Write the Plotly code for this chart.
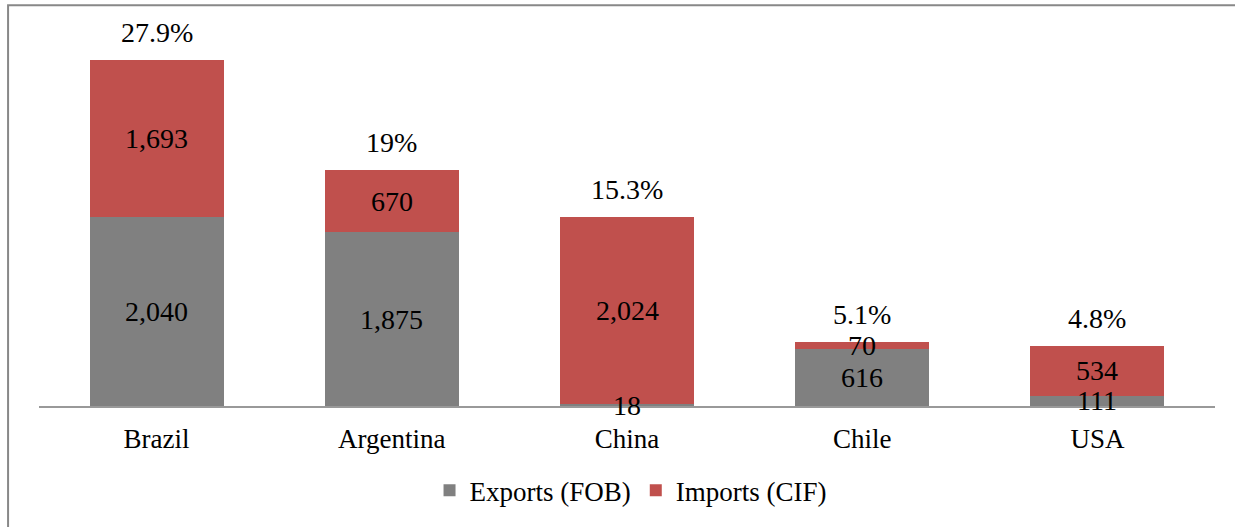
import plotly.graph_objects as go

countries = ["Brazil", "Argentina", "China", "Chile", "USA"]
exports_fob = [2040, 1875, 18, 616, 111]
imports_cif = [1693, 670, 2024, 70, 534]
shares = ["27.9%", "19%", "15.3%", "5.1%", "4.8%"]

FONT = "'Liberation Serif', 'Times New Roman', Times, 'DejaVu Serif', serif"
GRAY = "#808080"
RED = "#C0504D"

fig = go.Figure()
fig.add_trace(go.Bar(x=countries, y=exports_fob, name="Exports (FOB)",
                     marker=dict(color=GRAY, line=dict(width=0)), hoverinfo="skip"))
fig.add_trace(go.Bar(x=countries, y=imports_cif, name="Imports (CIF)",
                     marker=dict(color=RED, line=dict(width=0)), hoverinfo="skip"))

LBL = dict(family=FONT, size=28, color="black")
annotations = []
for c, e, i, s in zip(countries, exports_fob, imports_cif, shares):
    annotations.append(dict(x=c, y=e / 2, text=f"{e:,}", showarrow=False,
                            xref="x", yref="y", yanchor="middle", font=LBL))
    annotations.append(dict(x=c, y=e + i / 2, text=f"{i:,}", showarrow=False,
                            xref="x", yref="y", yanchor="middle", font=LBL))
    annotations.append(dict(x=c, y=e + i, text=s, showarrow=False,
                            xref="x", yref="y", yanchor="bottom", yshift=10, font=LBL))

fig.update_layout(
    barmode="stack",
    bargap=0.43,
    width=1235, height=527,
    margin=dict(l=39, r=20, t=35, b=119),
    paper_bgcolor="white", plot_bgcolor="white",
    font=dict(family=FONT, size=27, color="black"),
    showlegend=True,
    legend=dict(orientation="h", x=0.503, xanchor="center", y=-0.228, yanchor="middle",
                font=dict(family=FONT, size=27, color="black"),
                traceorder="normal", itemwidth=30),
    annotations=annotations,
    shapes=[dict(type="rect", xref="paper", yref="paper",
                 x0=-0.0263, x1=1.03, y0=-0.35, y1=1.0804,
                 line=dict(color="#888888", width=2), fillcolor="rgba(0,0,0,0)", layer="below")],
)
fig.update_xaxes(showline=True, linecolor="#999999", linewidth=2, ticks="",
                 showgrid=False, tickfont=dict(family=FONT, size=27, color="black"),
                 ticklabelstandoff=8, range=[-0.5, 4.5])
fig.update_yaxes(visible=False, range=[0, 4000], showgrid=False, zeroline=False)

fig.write_html("out.html", config={"displayModeBar": False},
               post_script="document.body.style.margin='0';")
